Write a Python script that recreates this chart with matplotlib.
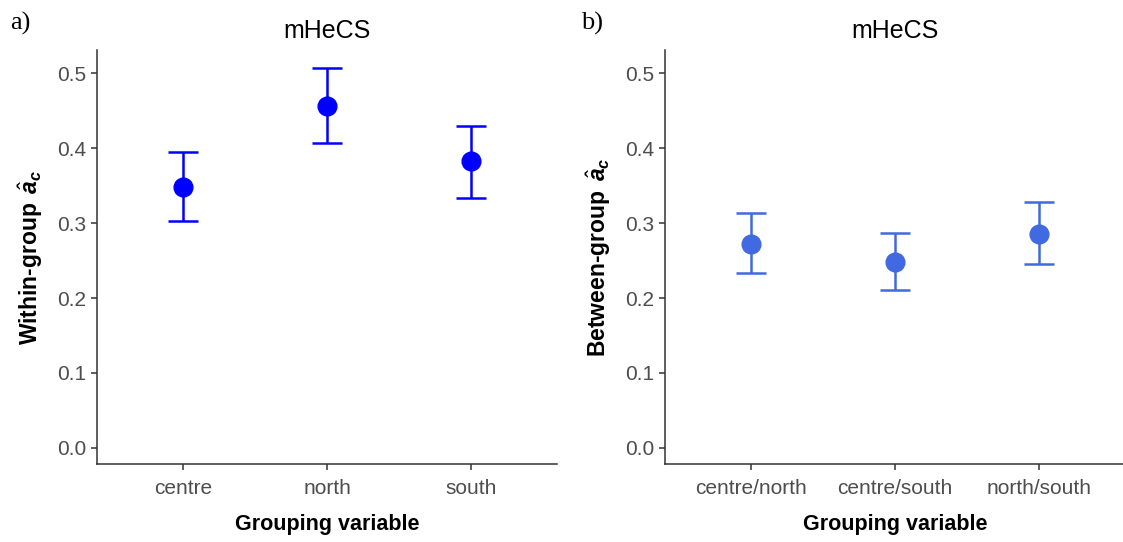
import numpy as np
import matplotlib
matplotlib.use("Agg")
import matplotlib.pyplot as plt

plt.rcParams["font.family"] = ["Liberation Sans", "DejaVu Sans"]
plt.rcParams["mathtext.fontset"] = "custom"
plt.rcParams["mathtext.rm"] = "Liberation Sans"
plt.rcParams["mathtext.it"] = "Liberation Sans:italic"
plt.rcParams["mathtext.bf"] = "Liberation Sans:bold"
plt.rcParams["mathtext.bfit"] = "Liberation Sans:italic:bold"

# within-group estimates (panel a)
within_groups = ["centre", "north", "south"]
within_est = [0.348, 0.456, 0.383]
within_lo = [0.303, 0.407, 0.334]
within_hi = [0.395, 0.507, 0.429]

# between-group estimates (panel b)
between_groups = ["centre/north", "centre/south", "north/south"]
between_est = [0.272, 0.248, 0.285]
between_lo = [0.233, 0.211, 0.245]
between_hi = [0.313, 0.287, 0.328]

yticks = [0.0, 0.1, 0.2, 0.3, 0.4, 0.5]

fig = plt.figure(figsize=(11.23, 5.42), dpi=100)
axa = fig.add_axes([0.0864, 0.1439, 0.4096, 0.7638])
axb = fig.add_axes([0.5922, 0.1439, 0.4096, 0.7638])


def panel(ax, groups, est, lo, hi, color, ylabel):
    x = np.arange(1, len(groups) + 1)
    est = np.array(est)
    err = [est - np.array(lo), np.array(hi) - est]
    ax.errorbar(x, est, yerr=err, fmt="o", color=color, ms=13.5,
                elinewidth=1.8, capsize=10.5, capthick=1.8)
    ax.set_xlim(0.4, 3.6)
    ax.set_ylim(-0.0215, 0.531)
    ax.set_xticks(x)
    ax.set_xticklabels(groups)
    ax.set_yticks(yticks)
    ax.set_yticklabels(["%.1f" % v for v in yticks])
    for s in ["top", "right"]:
        ax.spines[s].set_visible(False)
    for s in ["left", "bottom"]:
        ax.spines[s].set_color("#333333")
        ax.spines[s].set_linewidth(1.1)
    ax.tick_params(colors="#333333", labelcolor="#4D4D4D", labelsize=15,
                   length=4, width=1.1)
    ax.tick_params(axis="x", pad=7)
    ax.set_title("mHeCS", fontsize=18, pad=9)
    ax.set_xlabel("Grouping variable", fontsize=15.5, fontweight="bold", labelpad=11)
    ax.set_ylabel(ylabel, fontsize=16.5, fontweight="bold", labelpad=9)


panel(axa, within_groups, within_est, within_lo, within_hi, "#0000FF",
      r"Within-group $\,\hat{\boldsymbol{a}}_{\boldsymbol{c}}$")
panel(axb, between_groups, between_est, between_lo, between_hi, "#4169E1",
      r"Between-group $\,\hat{\boldsymbol{a}}_{\boldsymbol{c}}$")

fig.text(0.009, 0.945, "a)", family="Liberation Serif", fontsize=19)
fig.text(0.517, 0.945, "b)", family="Liberation Serif", fontsize=19)

fig.savefig("out.png", dpi=100)
